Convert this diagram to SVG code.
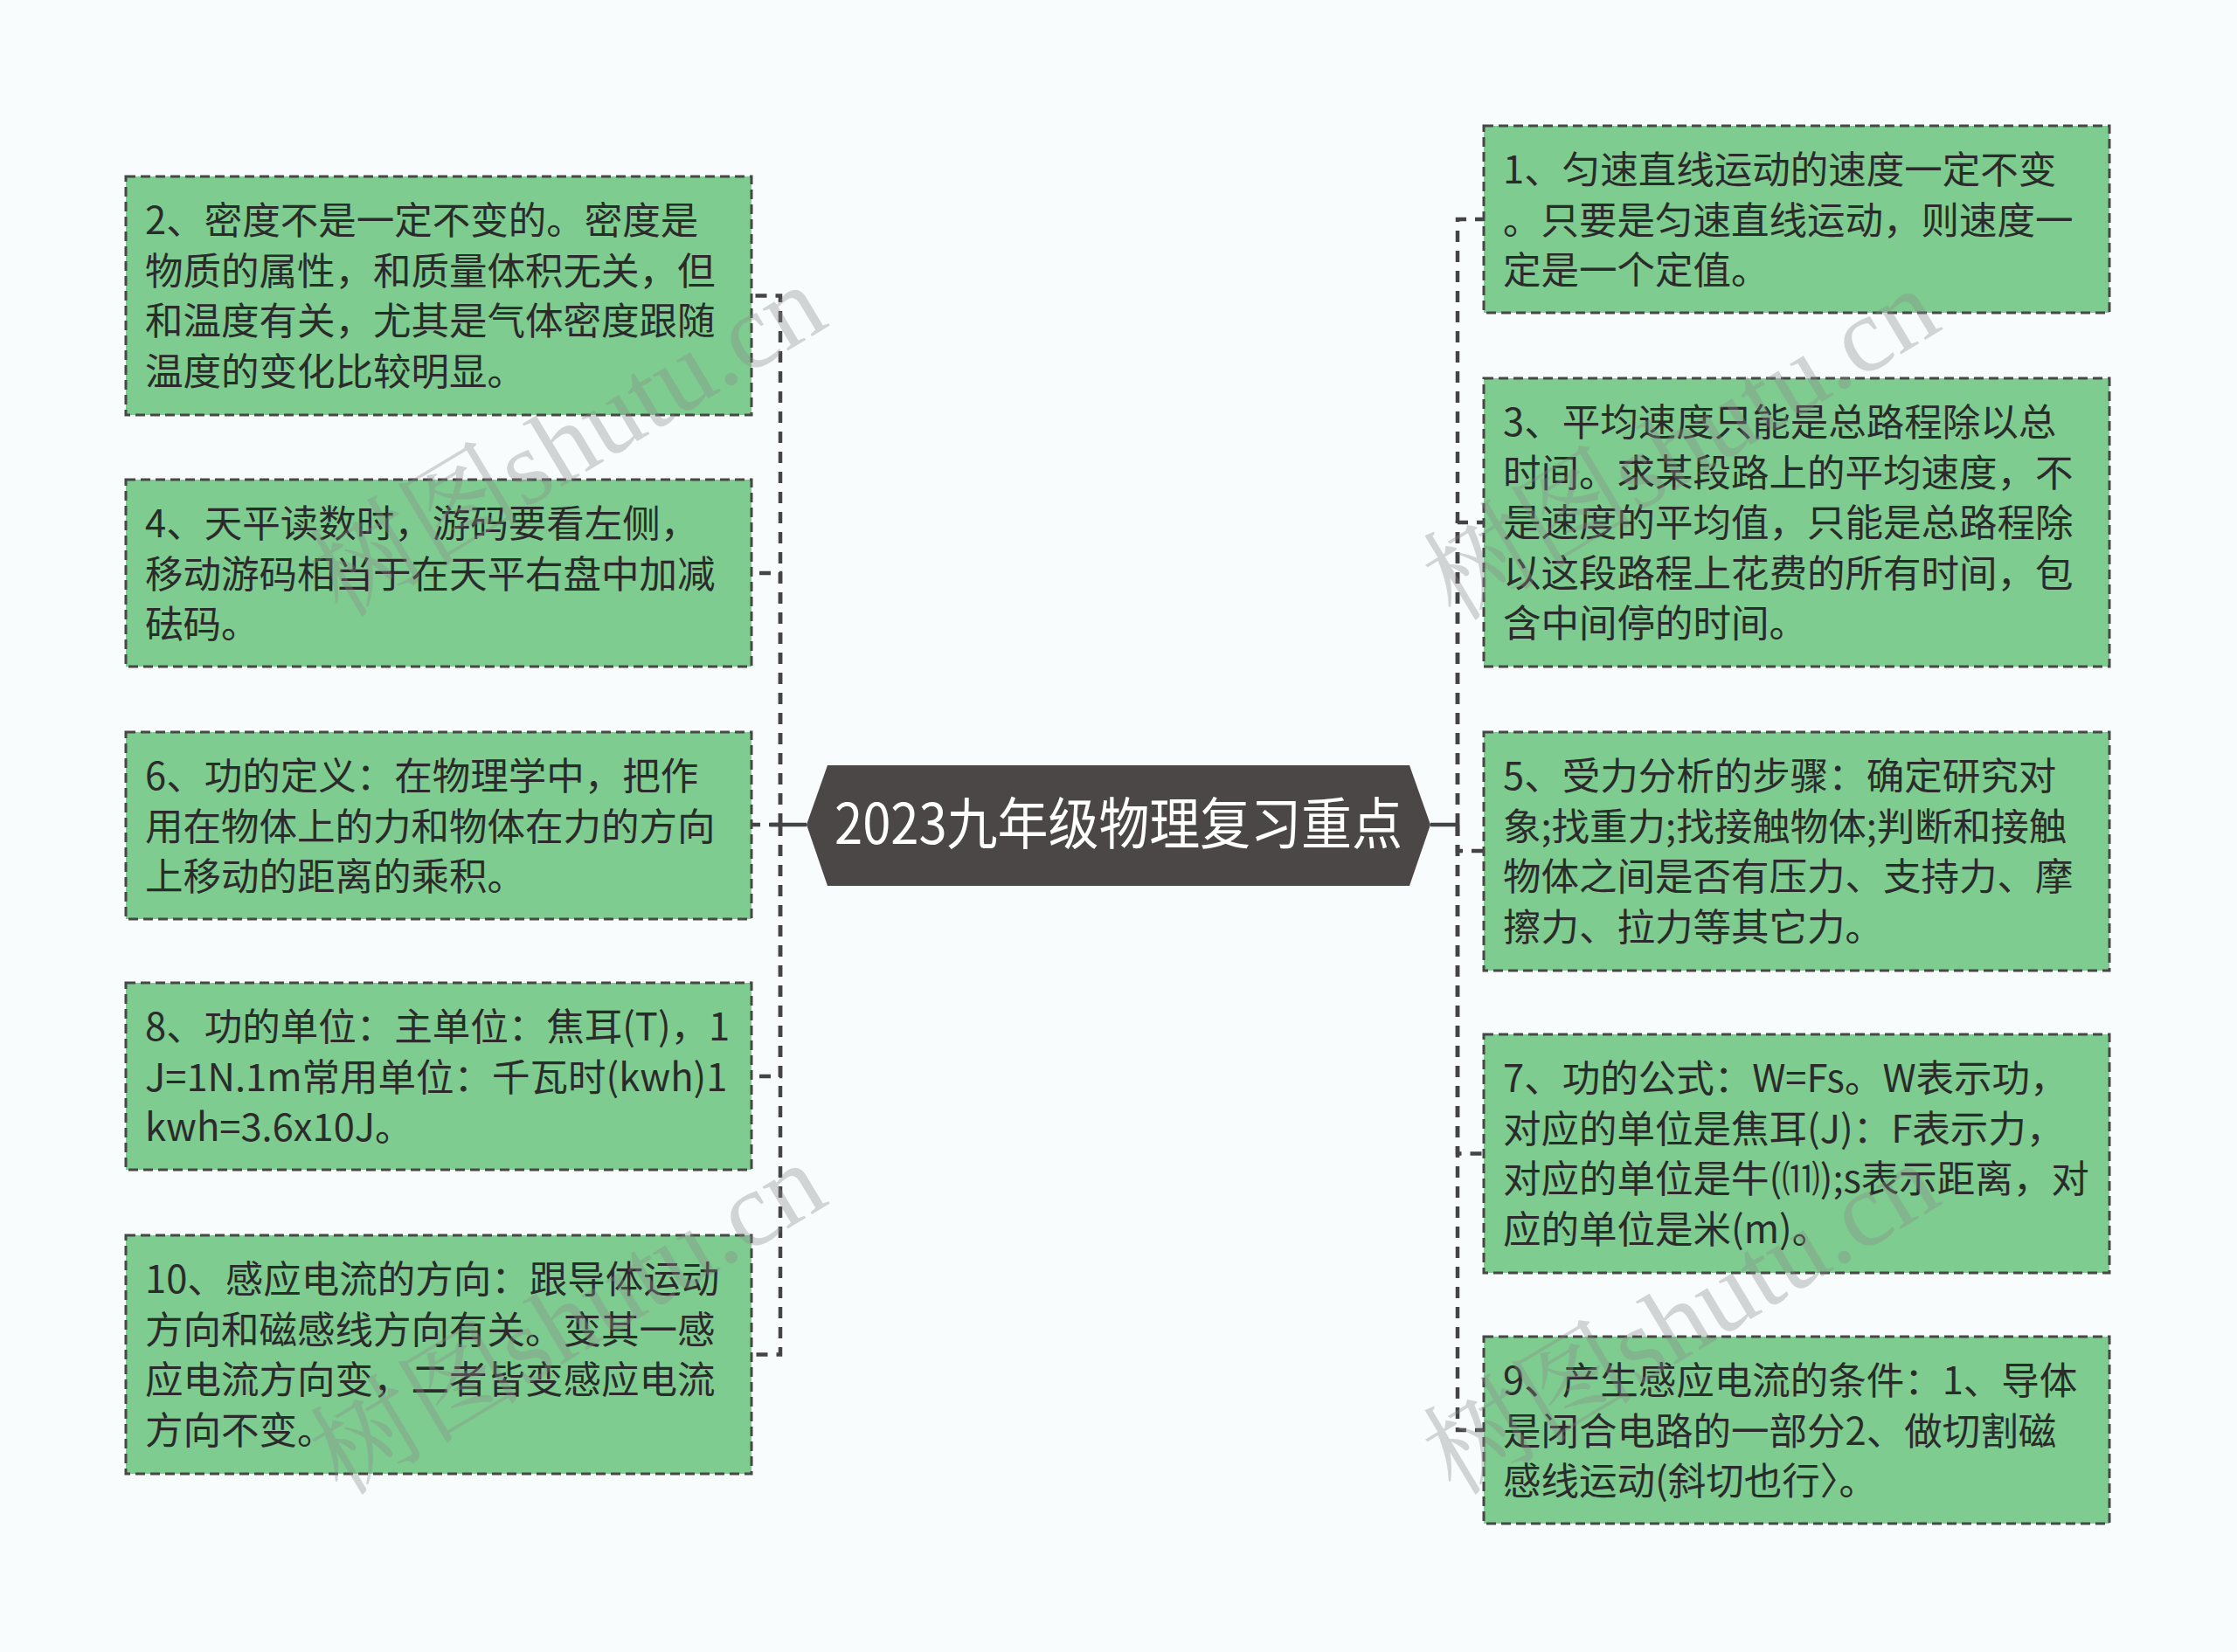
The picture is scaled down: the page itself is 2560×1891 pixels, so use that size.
<svg xmlns="http://www.w3.org/2000/svg" width="2560" height="1891" viewBox="0 0 2560 1891">
<defs>
<style>
.bg{fill:#f8fcfc}
.box{fill:#7ecc8f;stroke:#474747;stroke-width:3;stroke-dasharray:11 6}
.t{font-family:"Noto Sans CJK SC","Noto Sans",sans-serif;font-size:43.5px;fill:#2b2b2b}
.root{fill:#4b4747}
.rt{font-family:"Noto Sans CJK SC","Noto Sans",sans-serif;font-size:64px;fill:#ffffff}
.c{fill:none;stroke:#444444;stroke-width:4.5;stroke-dasharray:13 10}
.cs{fill:none;stroke:#444444;stroke-width:4.5}
.wm{font-family:"Liberation Serif","Noto Serif CJK SC","Noto Sans CJK SC",serif;font-size:122px;fill:#8a8a8a;fill-opacity:0.35}
</style>
</defs>
<rect class="bg" x="0" y="0" width="2560" height="1891"/>

<g id="connectors">
<path class="cs" d="M923 944 H882"/>
<path class="cs" d="M1637 944 H1670"/>
<path class="c" d="M893 944 V338.5 H860"/>
<path class="c" d="M893 944 V656 H860"/>
<path class="c" d="M893 944 H860"/>
<path class="c" d="M893 944 V1232 H860"/>
<path class="c" d="M893 944 V1550.5 H860"/>
<path class="c" d="M1668 944 V251 H1698"/>
<path class="c" d="M1668 944 V598 H1698"/>
<path class="c" d="M1668 944 V974 H1698"/>
<path class="c" d="M1668 944 V1320.5 H1698"/>
<path class="c" d="M1668 944 V1637 H1698"/>
</g>

<g id="root">
<polygon class="root" points="923,944 947,876 1613,876 1637,944 1613,1014 947,1014"/>
<text class="rt" x="955" y="966" textLength="650" lengthAdjust="spacingAndGlyphs">2023九年级物理复习重点</text>
</g>

<g id="n2">
<rect class="box" x="144" y="202" width="716" height="273"/>
<text class="t"><tspan x="166" y="268">2、密度不是一定不变的。密度是</tspan><tspan x="166" y="325.5">物质的属性，和质量体积无关，但</tspan><tspan x="166" y="383">和温度有关，尤其是气体密度跟随</tspan><tspan x="166" y="440.5">温度的变化比较明显。</tspan></text>
</g>
<g id="n4">
<rect class="box" x="144" y="549" width="716" height="214"/>
<text class="t"><tspan x="166" y="615">4、天平读数时，游码要看左侧，</tspan><tspan x="166" y="672.5">移动游码相当于在天平右盘中加减</tspan><tspan x="166" y="730">砝码。</tspan></text>
</g>
<g id="n6">
<rect class="box" x="144" y="838" width="716" height="214"/>
<text class="t"><tspan x="166" y="904">6、功的定义：在物理学中，把作</tspan><tspan x="166" y="961.5">用在物体上的力和物体在力的方向</tspan><tspan x="166" y="1019">上移动的距离的乘积。</tspan></text>
</g>
<g id="n8">
<rect class="box" x="144" y="1125" width="716" height="214"/>
<text class="t"><tspan x="166" y="1191">8、功的单位：主单位：焦耳(T)，1</tspan><tspan x="166" y="1248.5">J=1N.1m常用单位：千瓦时(kwh)1</tspan><tspan x="166" y="1306">kwh=3.6x10J。</tspan></text>
</g>
<g id="n10">
<rect class="box" x="144" y="1414" width="716" height="273"/>
<text class="t"><tspan x="166" y="1480">10、感应电流的方向：跟导体运动</tspan><tspan x="166" y="1537.5">方向和磁感线方向有关。变其一感</tspan><tspan x="166" y="1595">应电流方向变，二者皆变感应电流</tspan><tspan x="166" y="1652.5">方向不变。</tspan></text>
</g>

<g id="n1">
<rect class="box" x="1698" y="144" width="716" height="214"/>
<text class="t"><tspan x="1720" y="210">1、匀速直线运动的速度一定不变</tspan><tspan x="1720" y="267.5">。只要是匀速直线运动，则速度一</tspan><tspan x="1720" y="325">定是一个定值。</tspan></text>
</g>
<g id="n3">
<rect class="box" x="1698" y="433" width="716" height="330"/>
<text class="t"><tspan x="1720" y="499">3、平均速度只能是总路程除以总</tspan><tspan x="1720" y="556.5">时间。求某段路上的平均速度，不</tspan><tspan x="1720" y="614">是速度的平均值，只能是总路程除</tspan><tspan x="1720" y="671.5">以这段路程上花费的所有时间，包</tspan><tspan x="1720" y="729">含中间停的时间。</tspan></text>
</g>
<g id="n5">
<rect class="box" x="1698" y="838" width="716" height="273"/>
<text class="t"><tspan x="1720" y="904">5、受力分析的步骤：确定研究对</tspan><tspan x="1720" y="961.5">象;找重力;找接触物体;判断和接触</tspan><tspan x="1720" y="1019">物体之间是否有压力、支持力、摩</tspan><tspan x="1720" y="1076.5">擦力、拉力等其它力。</tspan></text>
</g>
<g id="n7">
<rect class="box" x="1698" y="1184" width="716" height="273"/>
<text class="t"><tspan x="1720" y="1250">7、功的公式：W=Fs。W表示功，</tspan><tspan x="1720" y="1307.5">对应的单位是焦耳(J)：F表示力，</tspan><tspan x="1720" y="1365">对应的单位是牛(⑾);s表示距离，对</tspan><tspan x="1720" y="1422.5">应的单位是米(m)。</tspan></text>
</g>
<g id="n9">
<rect class="box" x="1698" y="1530" width="716" height="214"/>
<text class="t"><tspan x="1720" y="1596">9、产生感应电流的条件：1、导体</tspan><tspan x="1720" y="1653.5">是闭合电路的一部分2、做切割磁</tspan><tspan x="1720" y="1711">感线运动(斜切也行〉。</tspan></text>
</g>

<g id="watermarks">
<text class="wm" x="653" y="545" text-anchor="middle" transform="rotate(-31 653 510)">树图shutu.cn</text>
<text class="wm" x="1927" y="549" text-anchor="middle" transform="rotate(-31 1927 514)">树图shutu.cn</text>
<text class="wm" x="653" y="1550" text-anchor="middle" transform="rotate(-31 653 1515)">树图shutu.cn</text>
<text class="wm" x="1927" y="1550" text-anchor="middle" transform="rotate(-31 1927 1515)">树图shutu.cn</text>
</g>
</svg>
